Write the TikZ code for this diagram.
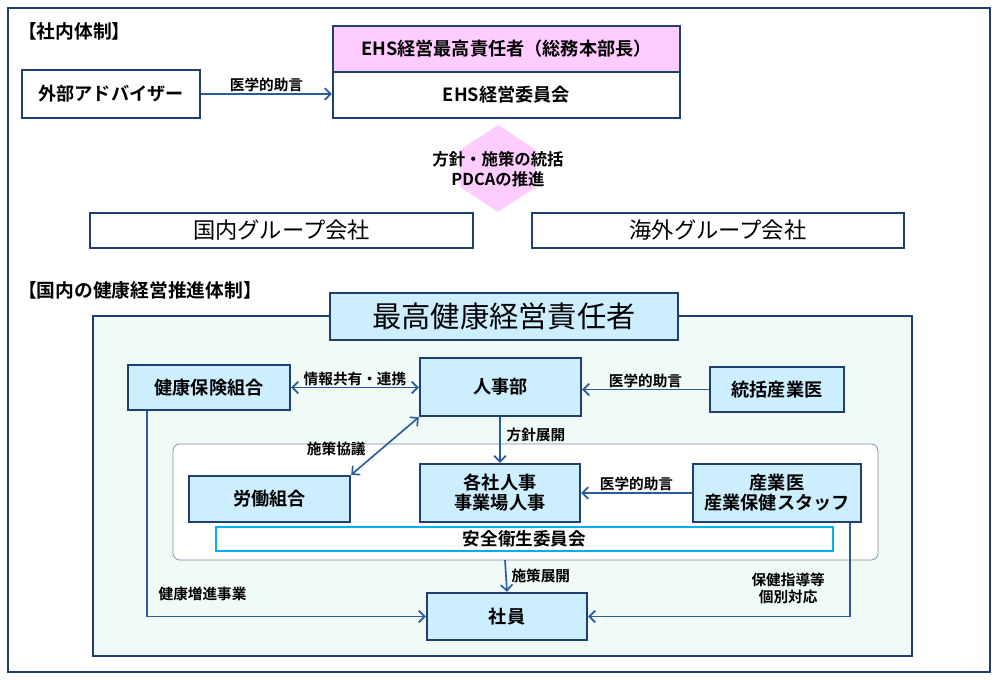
\documentclass[tikz,border=0pt]{standalone}
\usepackage{fontspec}
\setmainfont{Noto Sans CJK JP}[BoldFont={* Bold}]
\usetikzlibrary{arrows.meta,calc}
\def\pxu{0.03cm}
\definecolor{navy}{HTML}{1F3F73}
\definecolor{linkblue}{HTML}{2A5AA0}
\definecolor{pinkfill}{HTML}{FFCCFF}
\definecolor{skyfill}{HTML}{CCEEFF}
\definecolor{panelfill}{HTML}{F0FAF6}
\definecolor{cyanline}{HTML}{00B0F0}
\tikzset{
  box/.style={draw=navy, line width=2.1pt, fill=white, inner sep=0pt, font=\bfseries\fontsize{15.5}{17}\selectfont},
  bluebox/.style={box, fill=skyfill},
  lbl/.style={font=\bfseries\fontsize{12.5}{14.5}\selectfont, inner sep=1pt, align=center},
  link/.style={draw=linkblue, line width=1.4pt, -{Straight Barb[length=5pt,width=10pt]}},
}
\begin{document}
\begin{tikzpicture}[x=\pxu, y=-\pxu]
  \useasboundingbox (0,0) rectangle (1000,680);
  % Cadre general
  \draw[navy, line width=1.8pt] (8,8) rectangle (990,672);

  % Partie haute
  \node[anchor=west, font=\bfseries\fontsize{16}{18}\selectfont] (titreA) at (14,31) {【社内体制】};
  \node[box, minimum width=178*\pxu, minimum height=48*\pxu] (advisor) at (111,94) {外部アドバイザー};
  \node[box, fill=pinkfill, minimum width=347*\pxu, minimum height=46*\pxu] (cheo) at (506.5,49) {EHS経営最高責任者（総務本部長）};
  \node[box, minimum width=347*\pxu, minimum height=46*\pxu] (ehsc) at (506.5,95) {EHS経営委員会};
  \draw[link] (advisor) -- (advisor -| ehsc.west) node[lbl, midway, above] {医学的助言};

  \fill[pinkfill] (498,125) -- (536,150) -- (536,187) -- (498,212) -- (460,187) -- (460,150) -- cycle;
  \node[lbl, font=\bfseries\fontsize{14}{17}\selectfont] (pdca) at (498,169) {方針・施策の統括\\PDCAの推進};

  \node[box, line width=1.6pt, font=\fontsize{19}{21}\selectfont, minimum width=383*\pxu, minimum height=35*\pxu] (domestic) at (281.5,230.5) {国内グループ会社};
  \node[box, line width=1.6pt, font=\fontsize{19}{21}\selectfont, minimum width=372*\pxu, minimum height=35*\pxu] (overseas) at (718,230.5) {海外グループ会社};

  % Partie basse
  \node[anchor=west, font=\bfseries\fontsize{16}{18}\selectfont] (titreB) at (14,290) {【国内の健康経営推進体制】};
  \draw[navy, line width=2.1pt, fill=panelfill] (93,316) rectangle (912,656);
  \draw[navy!60, line width=0.6pt, fill=white, rounded corners=6pt] (173,444) rectangle (878,560);
  \node[bluebox, font=\fontsize{25}{27}\selectfont, minimum width=348*\pxu, minimum height=47*\pxu] (cho) at (504,316.5) {最高健康経営責任者};

  \node[bluebox, minimum width=162*\pxu, minimum height=45*\pxu] (kenpo) at (209,387.5) {健康保険組合};
  \node[bluebox, minimum width=161*\pxu, minimum height=58*\pxu] (jinji) at (500.5,387) {人事部};
  \node[bluebox, minimum width=134*\pxu, minimum height=45*\pxu] (sangyoi) at (777,389.5) {統括産業医};
  \node[bluebox, minimum width=161*\pxu, minimum height=46*\pxu] (rodo) at (269.5,499) {労働組合};
  \node[bluebox, align=center, minimum width=160*\pxu, minimum height=58*\pxu] (kakusha) at (500,493) {各社人事\\事業場人事};
  \node[bluebox, align=center, minimum width=168*\pxu, minimum height=58*\pxu] (staff) at (777,493) {産業医\\産業保健スタッフ};
  \node[draw=cyanline, line width=2pt, fill=white, inner sep=0pt, font=\bfseries\fontsize{15}{17}\selectfont, minimum width=617*\pxu, minimum height=24*\pxu] (anzen) at (524.5,539) {安全衛生委員会};
  \node[bluebox, minimum width=160*\pxu, minimum height=47*\pxu] (shain) at (507,616.5) {社員};

  % Liaisons
  \draw[link, {Straight Barb[length=5pt,width=10pt]}-{Straight Barb[length=5pt,width=10pt]}] (kenpo) -- (kenpo -| jinji.west) node[lbl, midway, above] {情報共有・連携};
  \draw[link] (sangyoi.west) -- (sangyoi.west -| jinji.east) node[lbl, midway, above] {医学的助言};
  \draw[link] (jinji.south -| kakusha) -- (kakusha.north) node[lbl, pos=0.4, right=4pt] {方針展開};
  \draw[link, {Straight Barb[length=5pt,width=10pt]}-{Straight Barb[length=5pt,width=10pt]}] (rodo.north east) -- (jinji.south west) node[lbl, pos=0.45, left=12pt] {施策協議};
  \draw[link] (staff.west) -- (staff.west -| kakusha.east) node[lbl, midway, above] {医学的助言};
  \coordinate (inner) at (505,560);
  \draw[link] (inner) -- (shain.north) node[lbl, midway, right=3pt] {施策展開};
  \draw[link] ($(kenpo.south west)+(20,0)$) |- (shain.west) node[lbl, pos=0.6, above=12pt] {健康増進事業};
  \draw[link] ($(staff.south east)+(-12,0)$) |- (shain.east) node[lbl, pos=0.35, left=20pt] {保健指導等\\個別対応};
\end{tikzpicture}
\end{document}
